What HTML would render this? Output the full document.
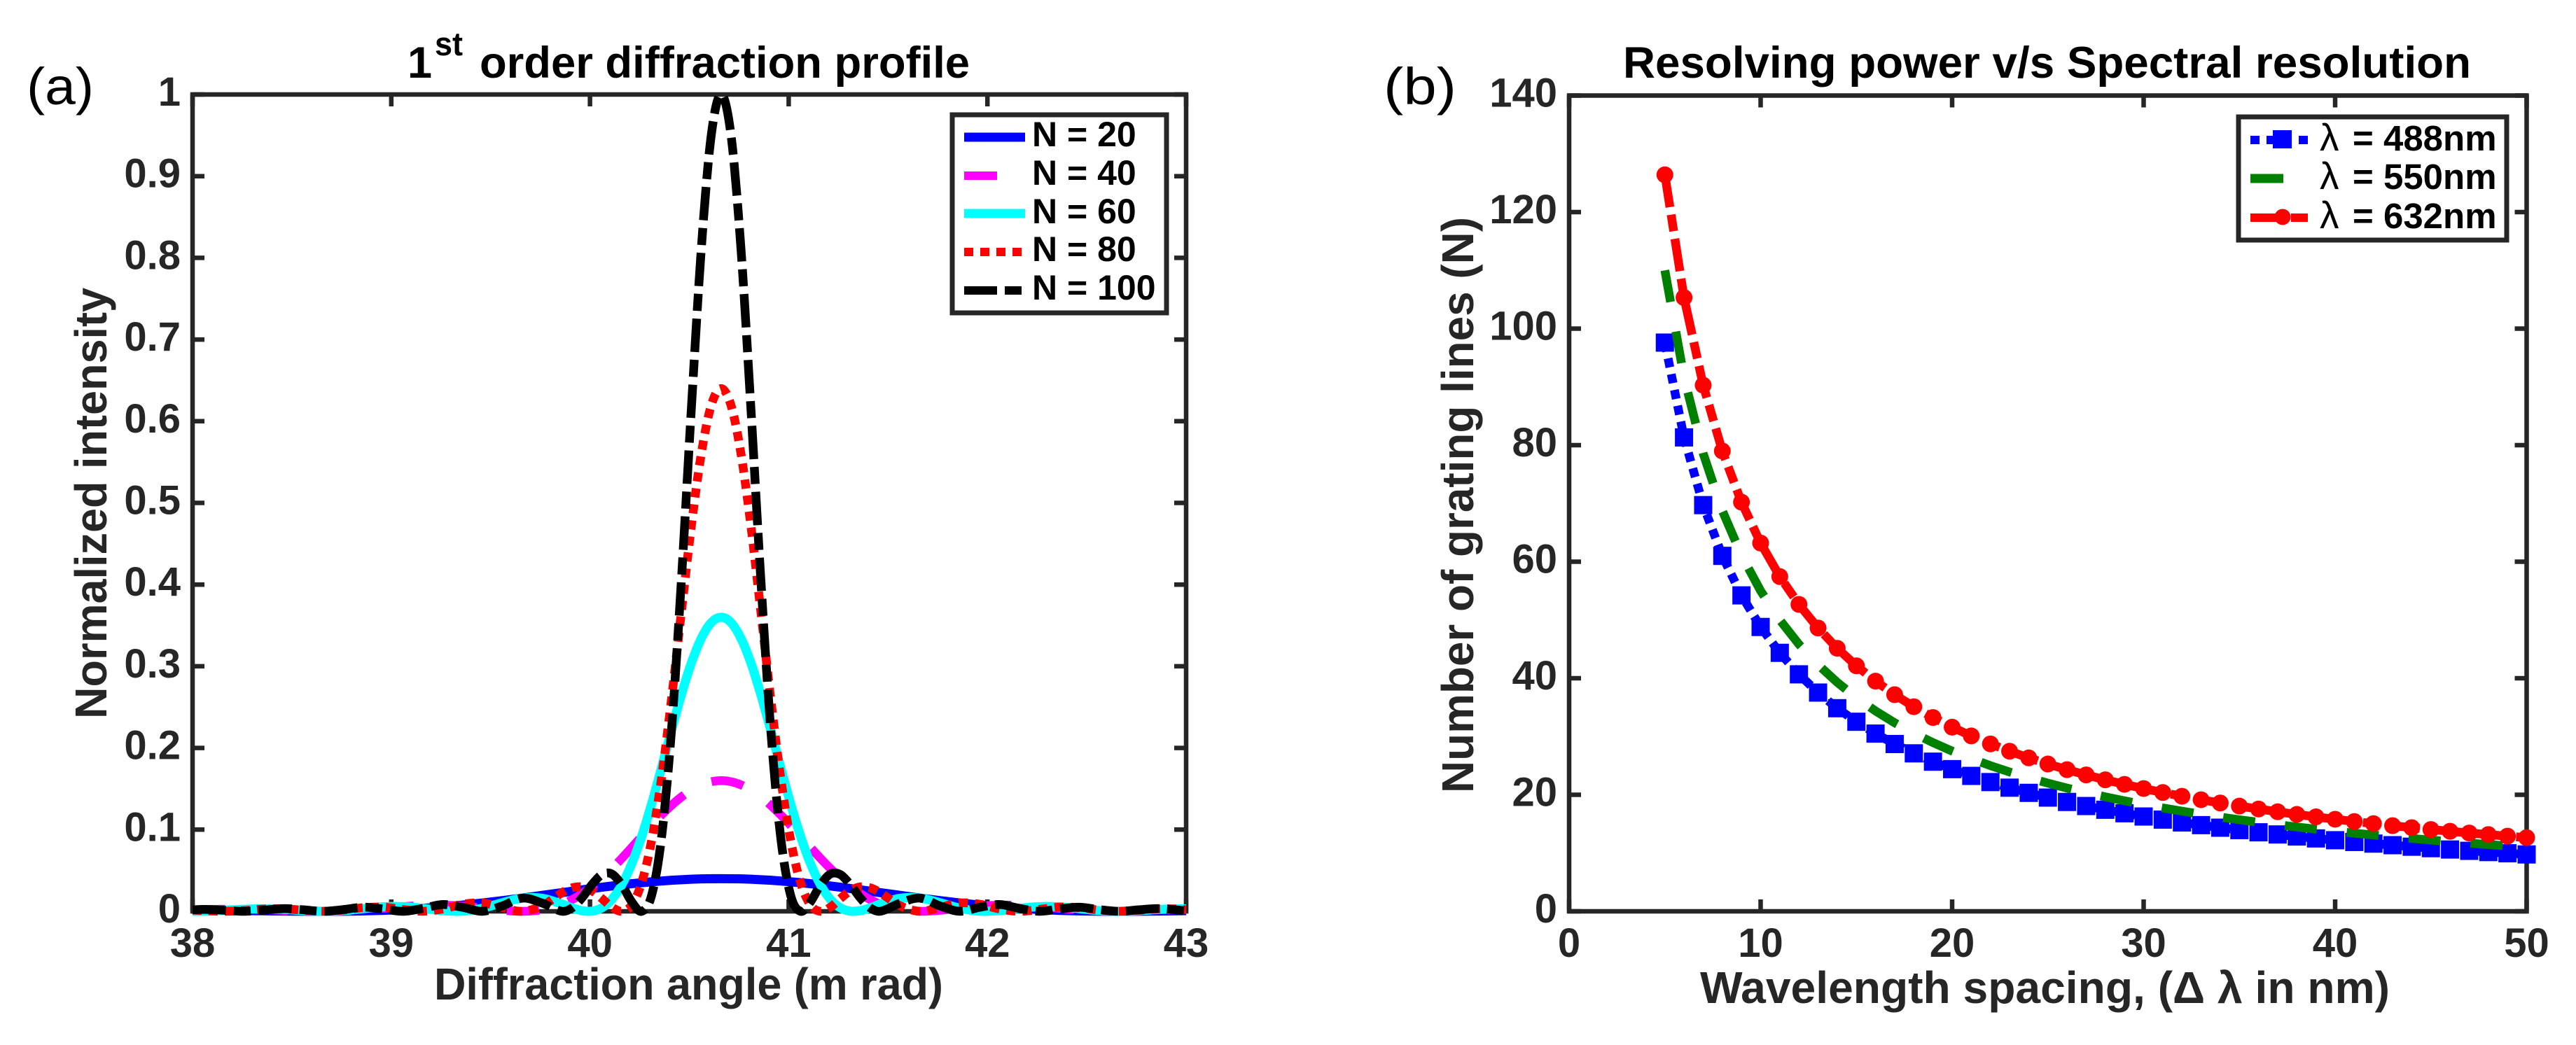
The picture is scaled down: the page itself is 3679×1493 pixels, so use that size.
<!DOCTYPE html>
<html lang="en">
<head>
<meta charset="utf-8">
<title>Diffraction profile and resolving power</title>
<style>
html,body{margin:0;padding:0;background:#fff;}
svg{display:block;}
text{font-family:"Liberation Sans",sans-serif;}
.bold{font-weight:700;}
.tick{font-weight:700;font-size:58px;fill:#262626;}
.lab{font-weight:700;font-size:64px;fill:#262626;}
.ttl{font-weight:700;font-size:63px;fill:#000;}
.leg{font-weight:700;font-size:50px;fill:#000;}
.legb{font-weight:700;font-size:51px;fill:#000;}
.sym{font-weight:400;font-size:55px;fill:#000;font-family:"Liberation Sans","DejaVu Sans",sans-serif;}
.pan{font-weight:400;font-size:74px;fill:#000;}
</style>
</head>
<body>
<svg id="fig" xmlns="http://www.w3.org/2000/svg" width="3679" height="1493" viewBox="0 0 3679 1493">
  <rect x="0" y="0" width="3679" height="1493" fill="#fff"/>

  <g id="panel-a">
    <g id="a-axes"></g>
    <g id="a-series"></g>
    <text class="pan" x="38" y="149" textLength="96" lengthAdjust="spacingAndGlyphs">(a)</text>
    <text class="ttl" x="582" y="111">1</text>
    <text class="ttl" x="621" y="79" style="font-size:47px" textLength="40" lengthAdjust="spacingAndGlyphs">st</text>
    <text class="ttl" x="685" y="111" textLength="700" lengthAdjust="spacingAndGlyphs">order diffraction profile</text>
    <text class="lab" x="620" y="1428" textLength="727" lengthAdjust="spacingAndGlyphs">Diffraction angle (m rad)</text>
    <text class="lab" transform="translate(152,1027) rotate(-90)" x="0" y="0" textLength="616" lengthAdjust="spacingAndGlyphs">Normalized intensity</text>
    <g>
      <rect x="1360" y="164" width="306" height="283" fill="#fff" stroke="#262626" stroke-width="7"/>
      <line x1="1377" x2="1464" y1="196" y2="196" stroke="#0000ff" stroke-width="13"/>
      <line x1="1377" x2="1424" y1="251" y2="251" stroke="#ff00ff" stroke-width="12"/>
      <line x1="1377" x2="1464" y1="305" y2="305" stroke="#00ffff" stroke-width="13"/>
      <line x1="1377" x2="1459" y1="360" y2="360" stroke="#ff0000" stroke-width="12" stroke-dasharray="13 10"/>
      <line x1="1377" x2="1459" y1="415" y2="415" stroke="#000" stroke-width="12" stroke-dasharray="47 11 24 11"/>
      <text class="leg" x="1474" y="209">N = 20</text>
      <text class="leg" x="1474" y="264">N = 40</text>
      <text class="leg" x="1474" y="319">N = 60</text>
      <text class="leg" x="1474" y="373">N = 80</text>
      <text class="leg" x="1474" y="428">N = 100</text>
    </g>
  </g>

  <g id="panel-b">
    <g id="b-axes"></g>
    <g id="b-series"></g>
    <text class="pan" x="1976" y="149" textLength="104" lengthAdjust="spacingAndGlyphs">(b)</text>
    <text class="ttl" x="2318" y="111" textLength="1211" lengthAdjust="spacingAndGlyphs">Resolving power v/s Spectral resolution</text>
    <text class="lab" x="2428" y="1433" textLength="985" lengthAdjust="spacingAndGlyphs">Wavelength spacing, (Δ λ in nm)</text>
    <text class="lab" transform="translate(2104,1133) rotate(-90)" x="0" y="0" textLength="823" lengthAdjust="spacingAndGlyphs">Number of grating lines (N)</text>
    <g>
      <rect x="3197" y="167" width="383" height="176" fill="#fff" stroke="#262626" stroke-width="7"/>
      <line x1="3214" x2="3296" y1="200" y2="200" stroke="#0000ff" stroke-width="12" stroke-dasharray="13 10"/>
      <rect x="3246" y="186" width="27" height="26" fill="#0000ff"/>
      <line x1="3214" x2="3261" y1="255" y2="255" stroke="#008000" stroke-width="13"/>
      <line x1="3214" x2="3296" y1="311" y2="311" stroke="#ff0000" stroke-width="12" stroke-dasharray="47 11 24 11"/>
      <circle cx="3260" cy="310" r="11.5" fill="#ff0000"/>
      <text class="sym" x="3313" y="215">λ</text>
      <text class="legb" x="3360" y="215">= 488nm</text>
      <text class="sym" x="3313" y="270">λ</text>
      <text class="legb" x="3360" y="270">= 550nm</text>
      <text class="sym" x="3313" y="326">λ</text>
      <text class="legb" x="3360" y="326">= 632nm</text>
    </g>
  </g>
</svg>

<script>
/* Panel (a) data */
const angleMrad = [38,38.06,38.16,38.26,38.36,38.46,38.56,38.66,38.76,38.86,38.96,39.06,39.16,39.26,39.36,39.46,39.56,39.66,39.76,39.86,39.91,39.96,40.01,40.06,40.11,40.16,40.21,40.26,40.31,40.36,40.41,40.46,40.51,40.56,40.61,40.66,40.71,40.76,40.81,40.86,40.91,40.96,41.01,41.06,41.11,41.16,41.21,41.26,41.31,41.36,41.41,41.46,41.56,41.66,41.76,41.86,41.96,42.06,42.16,42.26,42.36,42.46,42.56,42.66,42.76,42.86,42.96,43];
const intensityN20 = [.0017,.0016,.0013,.0010,.0006,.0003,.0001,0,.0001,.0005,.0012,.0022,.0036,.0054,.0076,.0102,.0131,.0162,.0195,.0229,.0246,.0263,.0279,.0295,.0310,.0324,.0338,.0350,.0361,.0371,.0380,.0387,.0393,.0397,.0399,.04,.0399,.0397,.0393,.0387,.0380,.0371,.0361,.0350,.0338,.0324,.0310,.0295,.0279,.0263,.0246,.0229,.0195,.0162,.0131,.0102,.0076,.0054,.0036,.0022,.0012,.0005,.0001,0,.0001,.0003,.0006,.0008];
const intensityN40 = [.0018,.0022,.0026,.0025,.0020,.0012,.0004,0,.0004,.0017,.0037,.0057,.0072,.0075,.0063,.0039,.0013,0,.0019,.0088,.0144,.0217,.0305,.0407,.0523,.0648,.0781,.0916,.1051,.1179,.1297,.14,.1485,.1548,.1587,.16,.1587,.1548,.1485,.14,.1297,.1179,.1051,.0916,.0781,.0648,.0523,.0407,.0305,.0217,.0144,.0088,.0019,0,.0013,.0039,.0063,.0075,.0072,.0057,.0037,.0017,.0004,0,.0004,.0012,.0020,.0023];
const intensityN60 = [0,.0002,.0013,.0025,.0030,.0022,.0008,0,.0009,.0033,.0055,.0057,.0036,.0008,.0002,.0039,.0106,.0162,.0159,.0088,.0042,.0008,.0002,.0043,.0146,.0324,.0582,.0916,.1315,.1757,.2214,.2652,.3039,.3341,.3534,.36,.3534,.3341,.3039,.2652,.2214,.1757,.1315,.0916,.0582,.0324,.0146,.0043,.0002,.0008,.0042,.0088,.0159,.0162,.0106,.0039,.0002,.0008,.0036,.0057,.0055,.0033,.0009,0,.0008,.0022,.0030,.0030];
const intensityN80 = [.0016,.0008,0,.0010,.0028,.0030,.0013,0,.0016,.0045,.0051,.0022,0,.0029,.0087,.0102,.0046,0,.0069,.0229,.0288,.0299,.0251,.0156,.0051,0,.0076,.035,.0866,.1629,.2594,.3666,.4715,.56,.6192,.64,.6192,.56,.4715,.3666,.2594,.1629,.0866,.035,.0076,0,.0051,.0156,.0251,.0299,.0288,.0229,.0069,0,.0046,.0102,.0087,.0029,0,.0022,.0051,.0045,.0016,0,.0013,.0030,.0028,.0021];
const intensityN100 = [.0018,.0024,.0013,0,.0015,.0033,.0018,0,.0022,.005,.0028,0,.0036,.0083,.0048,0,.0067,.0162,.01,0,.0042,.0165,.0327,.045,.0457,.0324,.0117,0,.0194,.0901,.2214,.4053,.6149,.8105,.9496,1,.9496,.8105,.6149,.4053,.2214,.0901,.0194,0,.0117,.0324,.0457,.045,.0327,.0165,.0042,0,.01,.0162,.0067,0,.0048,.0083,.0036,0,.0028,.005,.0022,0,.0018,.0033,.0015,.0006];
const aXTicks = [38,39,40,41,42,43];
const aXTickLabels = ['38','39','40','41','42','43'];
const aYTicks = [0,.1,.2,.3,.4,.5,.6,.7,.8,.9,1];
const aYTickLabels = ['0','0.1','0.2','0.3','0.4','0.5','0.6','0.7','0.8','0.9','1'];

/* Panel (b) data */
const spacingNm = [5,6,7,8,9,10,11,12,13,14,15,16,17,18,19,20,21,22,23,24,25,26,27,28,29,30,31,32,33,34,35,36,37,38,39,40,41,42,43,44,45,46,47,48,49,50];
const lines488 = [97.6,81.33,69.71,61,54.22,48.8,44.36,40.67,37.54,34.86,32.53,30.5,28.71,27.11,25.68,24.4,23.24,22.18,21.22,20.33,19.52,18.77,18.07,17.43,16.83,16.27,15.74,15.25,14.79,14.35,13.94,13.56,13.19,12.84,12.51,12.2,11.9,11.62,11.35,11.09,10.84,10.61,10.38,10.17,9.96,9.76];
const lines550 = [110,91.67,78.57,68.75,61.11,55,50,45.83,42.31,39.29,36.67,34.38,32.35,30.56,28.95,27.5,26.19,25,23.91,22.92,22,21.15,20.37,19.64,18.97,18.33,17.74,17.19,16.67,16.18,15.71,15.28,14.86,14.47,14.1,13.75,13.41,13.1,12.79,12.5,12.22,11.96,11.7,11.46,11.22,11];
const lines632 = [126.4,105.33,90.29,79,70.22,63.2,57.45,52.67,48.62,45.14,42.13,39.5,37.18,35.11,33.26,31.6,30.1,28.73,27.48,26.33,25.28,24.31,23.41,22.57,21.79,21.07,20.39,19.75,19.15,18.59,18.06,17.56,17.08,16.63,16.21,15.8,15.41,15.05,14.7,14.36,14.04,13.74,13.44,13.17,12.9,12.64];
const bXTicks = [0,10,20,30,40,50];
const bXTickLabels = ['0','10','20','30','40','50'];
const bYTicks = [0,20,40,60,80,100,120,140];
const bYTickLabels = ['0','20','40','60','80','100','120','140'];

const SVGNS = 'http://www.w3.org/2000/svg';
const AXIS = '#262626';

function mk(tag, parent) {
  const el = document.createElementNS(SVGNS, tag);
  parent.appendChild(el);
  return el;
}

/* axis functions */
const xa = v => 275 + (v - 38) / 5 * 1419;
const ya = v => 1302 - v * 1167;
const xb = v => 2241 + v / 50 * 1367.5;
const yb = v => 1302 - v / 140 * 1165.5;

function drawAxes(group, x0, x1, y0, y1, xs, xLabels, ys, yLabels, xScale, yScale, labelRight) {
  const frame = mk('rect', group);
  
  
  frame.setAttribute('x', x0);
  frame.setAttribute('y', y1);
  frame.setAttribute('width', x1 - x0);
  frame.setAttribute('height', y0 - y1);
  frame.setAttribute('fill', 'none');
  frame.setAttribute('stroke', AXIS);
  frame.setAttribute('stroke-width', '6.5');

  xs.forEach((v, i) => {
    const px = xScale(v);
    [[y0, y0 - 17], [y1, y1 + 17]].forEach(pair => {
      const t = mk('line', group);
      
      
      t.setAttribute('x1', px);
      t.setAttribute('x2', px);
      t.setAttribute('y1', pair[0]);
      t.setAttribute('y2', pair[1]);
      t.setAttribute('stroke', AXIS);
      t.setAttribute('stroke-width', '6.5');
    });
    const lab = mk('text', group);
    
    
    lab.setAttribute('class', 'tick');
    lab.setAttribute('x', px);
    lab.setAttribute('y', 1367);
    lab.setAttribute('text-anchor', 'middle');
    lab.textContent = xLabels[i];
  });

  ys.forEach((v, i) => {
    const py = yScale(v);
    [[x0, x0 + 17], [x1, x1 - 17]].forEach(pair => {
      const t = mk('line', group);
      
      
      t.setAttribute('x1', pair[0]);
      t.setAttribute('x2', pair[1]);
      t.setAttribute('y1', py);
      t.setAttribute('y2', py);
      t.setAttribute('stroke', AXIS);
      t.setAttribute('stroke-width', '6.5');
    });
    const lab = mk('text', group);
    
    
    lab.setAttribute('class', 'tick');
    lab.setAttribute('x', labelRight);
    lab.setAttribute('y', py + 16);
    lab.setAttribute('text-anchor', 'end');
    lab.textContent = yLabels[i];
  });
}

/* smooth path through data points, evaluated in data space then mapped through the axes */
function smoothPath(xs, ys, xScale, yScale) {
  const n = xs.length;
  const slope = i => {
    const a = Math.max(i - 1, 0), b = Math.min(i + 1, n - 1);
    return (ys[b] - ys[a]) / (xs[b] - xs[a]);
  };
  let d = 'M' + xScale(xs[0]).toFixed(2) + ' ' + yScale(ys[0]).toFixed(2);
  for (let i = 0; i < n - 1; i++) {
    const h = xs[i + 1] - xs[i];
    const c1x = xs[i] + h / 3, c1y = ys[i] + slope(i) * h / 3;
    const c2x = xs[i + 1] - h / 3, c2y = ys[i + 1] - slope(i + 1) * h / 3;
    d += 'C' + xScale(c1x).toFixed(2) + ' ' + yScale(c1y).toFixed(2) + ' ' +
         xScale(c2x).toFixed(2) + ' ' + yScale(c2y).toFixed(2) + ' ' +
         xScale(xs[i + 1]).toFixed(2) + ' ' + yScale(ys[i + 1]).toFixed(2);
  }
  return d;
}

function polyPath(xs, ys, xScale, yScale) {
  return xs.map((v, i) => (i ? 'L' : 'M') + xScale(v).toFixed(2) + ' ' + yScale(ys[i]).toFixed(2)).join('');
}

/* Dash styling: keep the dash start at the line's first point and nudge the dash
   period slightly so that a dash begins where the matcher says it should. */
function styleDash(path, pattern, matcher) {
  let scale = 1;
  if (matcher) {
    const total = path.getTotalLength();
    const period = pattern.reduce((a, b) => a + b, 0);
    for (let L = 0; L < total; L += 1) {
      const pt = path.getPointAtLength(L);
      if (matcher(pt)) {
        const n = Math.max(1, Math.round(L / period));
        const s = n * period / L;
        if (s > 0.92 && s < 1.08) scale = s;
        break;
      }
    }
  }
  path.setAttribute('stroke-dasharray', pattern.map(v => (v * scale).toFixed(3)).join(' '));
}

const aGroup = document.getElementById('a-series');
function addCurveA(values, color, width, pattern, matcher) {
  const p = mk('path', aGroup);
  
  
  p.setAttribute('d', smoothPath(angleMrad, values, xa, ya));
  p.setAttribute('fill', 'none');
  p.setAttribute('stroke', color);
  p.setAttribute('stroke-width', width);
  if (pattern) styleDash(p, pattern, matcher);
}

const bGroup = document.getElementById('b-series');
function addLineB(values, color, pattern, matcher) {
  const p = mk('path', bGroup);
  
  
  p.setAttribute('d', polyPath(spacingNm, values, xb, yb));
  p.setAttribute('fill', 'none');
  p.setAttribute('stroke', color);
  p.setAttribute('stroke-width', '12.5');
  styleDash(p, pattern, matcher);
}
function addSquares(values, color) {
  values.forEach((v, i) => {
    const r = mk('rect', bGroup);
    
    
    r.setAttribute('x', xb(spacingNm[i]) - 13);
    r.setAttribute('y', yb(v) - 13);
    r.setAttribute('width', 26);
    r.setAttribute('height', 26);
    r.setAttribute('fill', color);
  });
}
function addCircles(values, color) {
  values.forEach((v, i) => {
    const c = mk('circle', bGroup);
    
    
    c.setAttribute('cx', xb(spacingNm[i]));
    c.setAttribute('cy', yb(v));
    c.setAttribute('r', 12);
    c.setAttribute('fill', color);
  });
}

drawAxes(document.getElementById('a-axes'), 275, 1694, 1302, 135, aXTicks, aXTickLabels, aYTicks, aYTickLabels, xa, ya, 258);
drawAxes(document.getElementById('b-axes'), 2241, 3608.5, 1302, 136.5, bXTicks, bXTickLabels, bYTicks, bYTickLabels, xb, yb, 2224);

addCurveA(intensityN20, '#0000ff', 13, null, null);
addCurveA(intensityN40, '#ff00ff', 12.5, [47, 44], pt => pt.x >= 1035);
addCurveA(intensityN60, '#00ffff', 13, null, null);
addCurveA(intensityN80, '#ff0000', 12.5, [13, 10], pt => pt.x >= 1023.5);
addCurveA(intensityN100, '#000000', 12.5, [47, 11, 24, 11], pt => pt.x > 925 && pt.y <= 1095);

addLineB(lines488, '#0000ff', [13, 10], null);
addSquares(lines488, '#0000ff');
addLineB(lines550, '#008000', [47, 44], pt => pt.x >= 3514);
addLineB(lines632, '#ff0000', [47, 11, 24, 11], pt => pt.y >= 615);
addCircles(lines632, '#ff0000');
</script>
</body>
</html>
